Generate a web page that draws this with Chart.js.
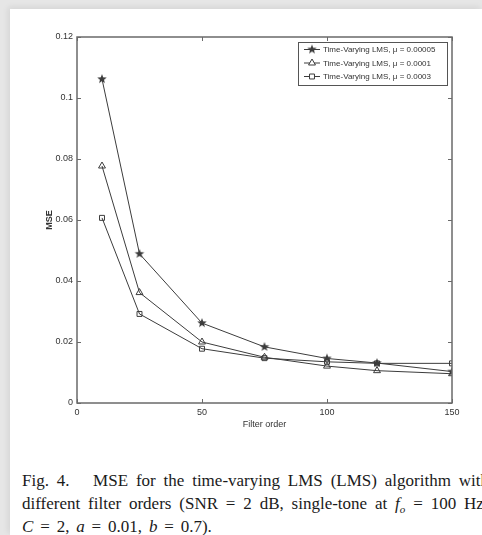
<!DOCTYPE html>
<html>
<head>
<meta charset="utf-8">
<script src="https://cdn.jsdelivr.net/npm/chart.js@4.4.1/dist/chart.umd.min.js"></script>
<style>
  html, body { margin: 0; padding: 0; }
  body { width: 482px; height: 535px; background: #e6e6e6; position: relative; overflow: hidden; }
  #page { position: absolute; left: 10px; top: 9px; right: 0; bottom: 0; background: #fff; box-shadow: -2px -2px 6px rgba(0,0,0,0.08); }
  #wrap { position: absolute; left: 0; top: 0; width: 482px; height: 433px; }
  .cap { position: absolute; left: 22px; top: 469px; font-family: "Liberation Serif", "DejaVu Serif", serif; font-size: 17px; line-height: 23px; color: #1a1a1a; white-space: nowrap; }
  .cap sub { font-size: 11px; line-height: 0; }
</style>
</head>
<body>
<div id="page"></div>
<div id="wrap"><canvas id="mseChart" width="482" height="433"></canvas></div>
<div class="cap">
  <div style="word-spacing: 3.6px;">Fig. 4.&nbsp;&nbsp; MSE for the time-varying LMS (LMS) algorithm with</div>
  <div style="word-spacing: 3.6px;">different filter orders (SNR = 2 dB, single-tone at <i>f<sub>o</sub></i> = 100 Hz,</div>
  <div style="word-spacing: 2.6px;"><i>C</i> = 2, <i>a</i> = 0.01, <i>b</i> = 0.7).</div>
</div>
<script>
// data
const filterOrders = [10, 25, 50, 75, 100, 120, 150];
const mseMu00005 = [0.1062, 0.0489, 0.0262, 0.0184, 0.0146, 0.0131, 0.0103];
const mseMu0001 = [0.0777, 0.0362, 0.0200, 0.0150, 0.0121, 0.0106, 0.0096];
const mseMu0003 = [0.0607, 0.0292, 0.0178, 0.0147, 0.0135, 0.0130, 0.0130];
const seriesLabels = [
    'Time-Varying LMS, \u03bc = 0.00005',
    'Time-Varying LMS, \u03bc = 0.0001',
    'Time-Varying LMS, \u03bc = 0.0003'
];
const xTicks = [0, 50, 100, 150];
const yTicks = [0, 0.02, 0.04, 0.06, 0.08, 0.1, 0.12];

const lineColor = '#3c3c3c';
const axisColor = '#6a6a6a';
const textColor = '#333';

// marker pentagram (bintang terisi)
function makeStar(r) {
    const c = document.createElement('canvas');
    const s = Math.ceil(r * 2 + 2);
    c.width = s; c.height = s;
    const g = c.getContext('2d');
    g.fillStyle = lineColor;
    g.beginPath();
    for (let i = 0; i < 10; i++) {
        const rad = i % 2 === 0 ? r : r * 0.42;
        const a = -Math.PI / 2 + i * Math.PI / 5;
        const px = s / 2 + rad * Math.cos(a), py = s / 2 + rad * Math.sin(a);
        if (i === 0) g.moveTo(px, py); else g.lineTo(px, py);
    }
    g.closePath();
    g.fill();
    return c;
}
const starImg = makeStar(5);

const toXY = (arr) => arr.map((v, i) => ({ x: filterOrders[i], y: v }));

// frame kotak + tick ke dalam (gaya MATLAB) + legend di dalam plot
const matlabFrame = {
    id: 'matlabFrame',
    afterDraw(chart) {
        const { ctx, chartArea: a, scales } = chart;
        ctx.save();
        ctx.strokeStyle = axisColor;
        ctx.lineWidth = 1.5;
        ctx.strokeRect(a.left, a.top, a.right - a.left, a.bottom - a.top);
        ctx.lineWidth = 1;
        xTicks.forEach(v => {
            const px = Math.round(scales.x.getPixelForValue(v)) + 0.5;
            ctx.beginPath();
            ctx.moveTo(px, a.bottom); ctx.lineTo(px, a.bottom - 4);
            ctx.moveTo(px, a.top); ctx.lineTo(px, a.top + 4);
            ctx.stroke();
        });
        yTicks.forEach(v => {
            const py = Math.round(scales.y.getPixelForValue(v)) + 0.5;
            ctx.beginPath();
            ctx.moveTo(a.left, py); ctx.lineTo(a.left + 4, py);
            ctx.moveTo(a.right, py); ctx.lineTo(a.right - 4, py);
            ctx.stroke();
        });

        // legend
        const bx = 298, by = 42, bw = 149, bh = 43;
        ctx.fillStyle = '#fff';
        ctx.fillRect(bx, by, bw, bh);
        ctx.strokeStyle = '#555';
        ctx.lineWidth = 1;
        ctx.strokeRect(bx + 0.5, by + 0.5, bw, bh);
        ctx.font = '8px "Liberation Sans", Arial, sans-serif';
        ctx.textBaseline = 'middle';
        chart.data.datasets.forEach((ds, i) => {
            const cy = by + 7.5 + i * 13.5;
            ctx.strokeStyle = lineColor;
            ctx.lineWidth = 1;
            ctx.beginPath();
            ctx.moveTo(bx + 6, cy); ctx.lineTo(bx + 22, cy);
            ctx.stroke();
            ctx.fillStyle = '#fff';
            Chart.helpers.drawPoint(ctx, {
                pointStyle: ds.pointStyle,
                radius: ds.pointRadius,
                borderWidth: 1
            }, bx + 14, cy);
            ctx.fillStyle = textColor;
            ctx.fillText(ds.label, bx + 25, cy + 0.5);
        });
        ctx.restore();
    }
};

new Chart(document.getElementById('mseChart').getContext('2d'), {
    type: 'line',
    data: {
        datasets: [
            {
                label: seriesLabels[0],
                data: toXY(mseMu00005),
                borderColor: lineColor, borderWidth: 1,
                pointStyle: starImg, pointRadius: 5,
                pointBackgroundColor: lineColor, pointBorderColor: lineColor
            },
            {
                label: seriesLabels[1],
                data: toXY(mseMu0001),
                borderColor: lineColor, borderWidth: 1,
                pointStyle: 'triangle', pointRadius: 4,
                pointBackgroundColor: 'rgba(255,255,255,0)', pointBorderColor: lineColor, pointBorderWidth: 1
            },
            {
                label: seriesLabels[2],
                data: toXY(mseMu0003),
                borderColor: lineColor, borderWidth: 1,
                pointStyle: 'rect', pointRadius: 3.5,
                pointBackgroundColor: 'rgba(255,255,255,0)', pointBorderColor: lineColor, pointBorderWidth: 1
            }
        ]
    },
    options: {
        responsive: false,
        animation: false,
        layout: { padding: { left: 40, top: 37, right: 30, bottom: 0 } },
        plugins: { legend: { display: false }, tooltip: { enabled: false } },
        scales: {
            x: {
                type: 'linear', min: 0, max: 150,
                afterBuildTicks: (s) => { s.ticks = xTicks.map(v => ({ value: v })); },
                afterFit: (s) => { s.height = 30; },
                grid: { display: false, drawTicks: false },
                border: { display: false },
                ticks: { padding: 4, color: textColor, font: { family: '"Liberation Sans", Arial, sans-serif', size: 9 }, maxRotation: 0 },
                title: { display: true, text: 'Filter order', color: textColor, padding: { top: 0, bottom: 3 }, font: { family: '"Liberation Sans", Arial, sans-serif', size: 9 } }
            },
            y: {
                min: 0, max: 0.12,
                afterBuildTicks: (s) => { s.ticks = yTicks.map(v => ({ value: v })); },
                afterFit: (s) => { s.width = 37; },
                grid: { display: false, drawTicks: false },
                border: { display: false },
                ticks: { padding: 4, color: textColor, font: { family: '"Liberation Sans", Arial, sans-serif', size: 9 }, callback: (v) => String(+v.toFixed(2)) },
                title: { display: true, text: 'MSE', color: textColor, padding: { top: 4, bottom: 0 }, font: { family: '"Liberation Sans", Arial, sans-serif', size: 9, weight: 'bold' } }
            }
        }
    },
    plugins: [matlabFrame]
});
</script>
</body>
</html>
